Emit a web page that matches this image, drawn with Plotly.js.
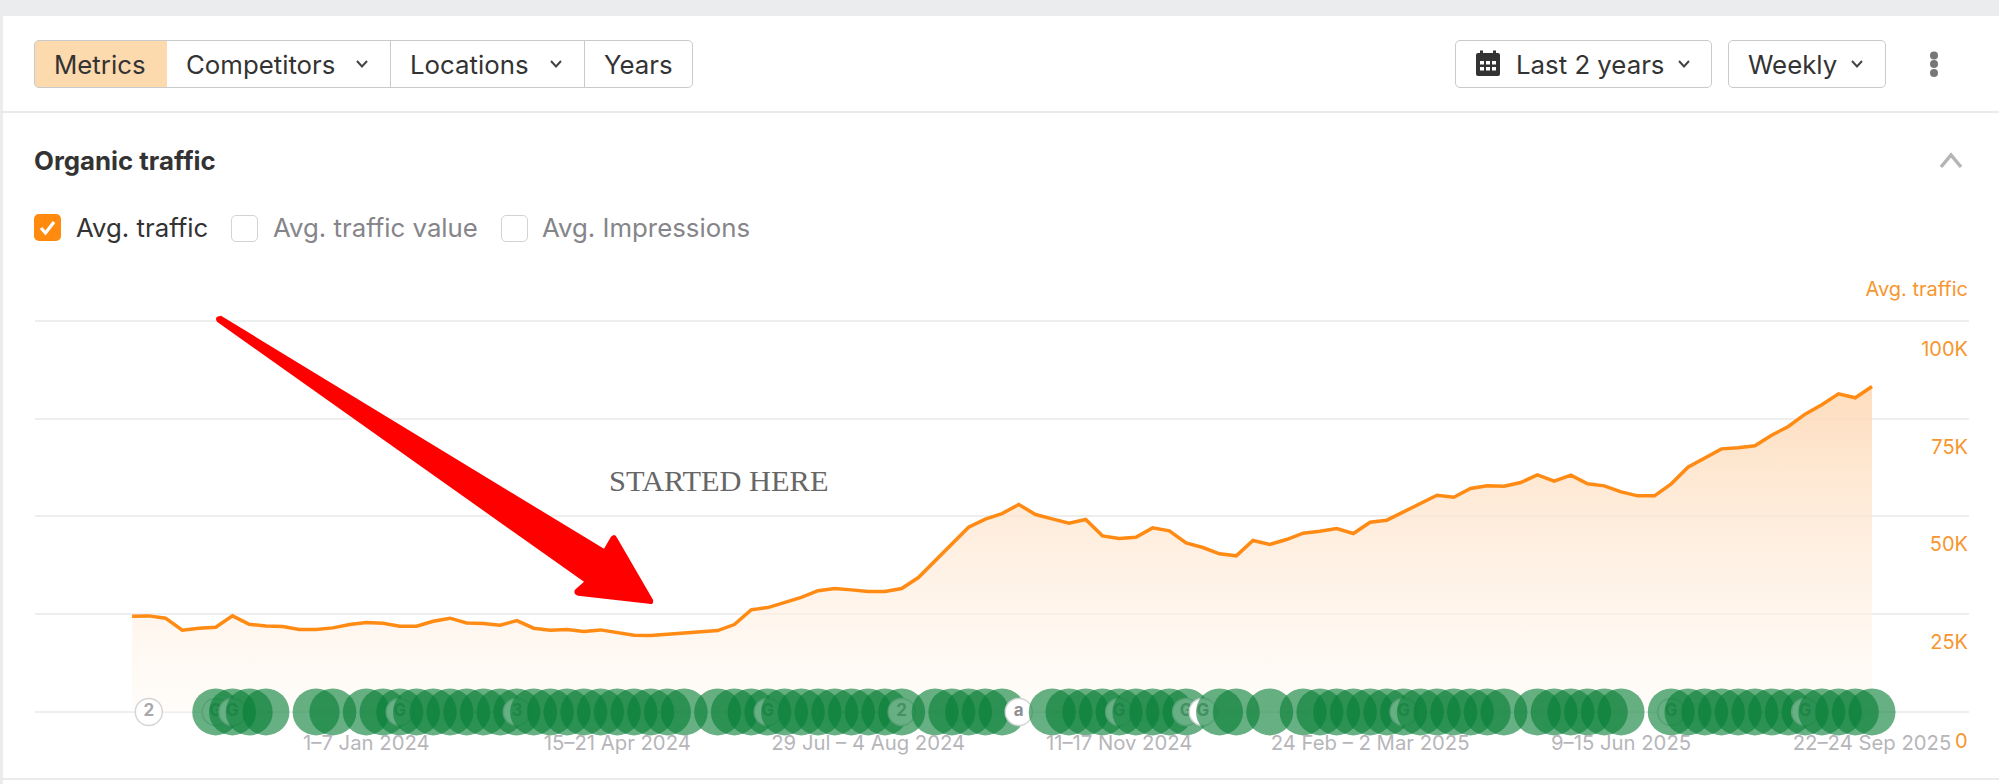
<!DOCTYPE html>
<html><head><meta charset="utf-8">
<script src="https://cdn.plot.ly/plotly-3.0.1.min.js"></script>
<style>
html,body{margin:0;padding:0;background:#fff;width:1999px;height:784px;overflow:hidden;font-family:Inter,sans-serif;color:#333}
.a{position:absolute;box-sizing:border-box;white-space:nowrap}
.btn{top:40px;height:48px;font-size:25.8px;line-height:47px;border:1.5px solid #c9cacc;background:#fff;padding-left:19px}
.lab{font-size:25.8px;line-height:30px;top:213px}
.box{top:215px;width:27px;height:27px;border:1.5px solid #d3d3d5;border-radius:5px;background:#fff}
svg.i{position:absolute}
</style></head><body>
<div class="a" style="left:0;top:0;width:1999px;height:16px;background:#ebecee"></div>
<div class="a" style="left:0;top:0;width:3px;height:784px;background:#ebecee"></div>
<div id="chart" class="a" style="left:0;top:0;width:1999px;height:784px"></div>

<div class="a btn" style="left:34px;width:134px;background:#fdd9ae;border-radius:5px 0 0 5px">Metrics</div>
<div class="a btn" style="left:167px;width:224px;border-left:0">Competitors</div>
<div class="a btn" style="left:390px;width:195px;border-left:1.5px solid #c9cacc">Locations</div>
<div class="a btn" style="left:584px;width:109px;border-radius:0 5px 5px 0">Years</div>
<div class="a btn" style="left:1455px;width:257px;border-radius:5px;padding-left:60px">Last 2 years</div>
<div class="a btn" style="left:1728px;width:158px;border-radius:5px">Weekly</div>

<svg class="i" style="left:355px;top:59px" width="14" height="10" viewBox="0 0 14 10"><path d="M2 2 L7 7.5 L12 2" fill="none" stroke="#444" stroke-width="2"/></svg>
<svg class="i" style="left:549px;top:59px" width="14" height="10" viewBox="0 0 14 10"><path d="M2 2 L7 7.5 L12 2" fill="none" stroke="#444" stroke-width="2"/></svg>
<svg class="i" style="left:1677px;top:59px" width="14" height="10" viewBox="0 0 14 10"><path d="M2 2 L7 7.5 L12 2" fill="none" stroke="#444" stroke-width="2"/></svg>
<svg class="i" style="left:1850px;top:59px" width="14" height="10" viewBox="0 0 14 10"><path d="M2 2 L7 7.5 L12 2" fill="none" stroke="#444" stroke-width="2"/></svg>
<svg class="i" style="left:1474px;top:50px" width="28" height="28" viewBox="0 0 28 28"><rect x="2" y="3" width="24" height="23" rx="2" fill="#333"/><rect x="6" y="0.5" width="3" height="5" fill="#333"/><rect x="19" y="0.5" width="3" height="5" fill="#333"/><g fill="#fff"><rect x="6" y="11" width="4" height="3.5"/><rect x="12" y="11" width="4" height="3.5"/><rect x="18" y="11" width="4" height="3.5"/><rect x="6" y="17" width="4" height="3.5"/><rect x="12" y="17" width="4" height="3.5"/><rect x="18" y="17" width="4" height="3.5"/></g></svg>
<svg class="i" style="left:1925px;top:50px" width="18" height="28" viewBox="0 0 18 28"><g fill="#777"><circle cx="9" cy="5.5" r="4"/><circle cx="9" cy="14" r="4"/><circle cx="9" cy="23" r="4"/></g></svg>

<div class="a" style="left:0;top:111px;width:1999px;height:2px;background:#ebebec"></div>
<div class="a" style="left:34px;top:146px;font-size:25.8px;line-height:30px;font-weight:700;color:#333">Organic traffic</div>
<svg class="i" style="left:1938px;top:150px" width="26" height="20" viewBox="0 0 26 20"><path d="M3 17 L13 5 L23 17" fill="none" stroke="#b5b5b7" stroke-width="3.5"/></svg>

<div class="a" style="left:34px;top:214px;width:27px;height:27px;background:#ff8a0d;border-radius:5px"></div>
<svg class="i" style="left:34px;top:214px" width="27" height="27" viewBox="0 0 27 27"><path d="M7 14 L11.5 19 L20 8" fill="none" stroke="#fff" stroke-width="3.2"/></svg>
<div class="a lab" style="left:76px;color:#333">Avg. traffic</div>
<div class="a box" style="left:231px"></div>
<div class="a lab" style="left:273px;color:#85858a">Avg. traffic value</div>
<div class="a box" style="left:501px"></div>
<div class="a lab" style="left:542px;color:#85858a">Avg. Impressions</div>
<div class="a" style="right:31px;top:277px;font-size:20px;line-height:24px;color:#f7962f">Avg. traffic</div>
<div class="a" style="left:0;top:778px;width:1999px;height:2px;background:#ebebec"></div>

<script>
const weeks = ["2023-09-25","2023-10-02","2023-10-09","2023-10-16","2023-10-23","2023-10-30","2023-11-06","2023-11-13","2023-11-20","2023-11-27","2023-12-04","2023-12-11","2023-12-18","2023-12-25",
"2024-01-01","2024-01-08","2024-01-15","2024-01-22","2024-01-29","2024-02-05","2024-02-12","2024-02-19","2024-02-26","2024-03-04","2024-03-11","2024-03-18","2024-03-25","2024-04-01","2024-04-08","2024-04-15","2024-04-22","2024-04-29","2024-05-06","2024-05-13","2024-05-20","2024-05-27","2024-06-03","2024-06-10","2024-06-17","2024-06-24","2024-07-01","2024-07-08","2024-07-15","2024-07-22","2024-07-29","2024-08-05","2024-08-12","2024-08-19","2024-08-26","2024-09-02","2024-09-09","2024-09-16","2024-09-23","2024-09-30","2024-10-07","2024-10-14","2024-10-21","2024-10-28","2024-11-04","2024-11-11","2024-11-18","2024-11-25","2024-12-02","2024-12-09","2024-12-16","2024-12-23","2024-12-30",
"2025-01-06","2025-01-13","2025-01-20","2025-01-27","2025-02-03","2025-02-10","2025-02-17","2025-02-24","2025-03-03","2025-03-10","2025-03-17","2025-03-24","2025-03-31","2025-04-07","2025-04-14","2025-04-21","2025-04-28","2025-05-05","2025-05-12","2025-05-19","2025-05-26","2025-06-02","2025-06-09","2025-06-16","2025-06-23","2025-06-30","2025-07-07","2025-07-14","2025-07-21","2025-07-28","2025-08-04","2025-08-11","2025-08-18","2025-08-25","2025-09-01","2025-09-08","2025-09-15","2025-09-22"];
const traffic = [24470,24550,23960,20890,21400,21650,24550,22420,21990,21820,21060,21060,21480,22340,22850,22680,21910,21910,23190,23960,22760,22590,22170,23360,21400,20890,21060,20550,20970,20290,19610,19520,19860,20290,20630,20800,22340,26090,26680,28050,29300,31000,31540,31200,30780,30780,31540,34360,38700,42970,47230,49280,50720,53030,50470,49360,48250,49190,45010,44330,44670,47060,46290,43220,42030,40410,39900,43820,42800,44070,45700,46210,46890,45610,48510,49020,51150,53280,55410,54900,57120,57800,57720,58650,60610,59000,60530,58310,57800,56270,55240,55240,58310,62570,64880,67260,67520,68030,70760,72970,76130,78520,81330,80310,83200];
const xTickWeeks = ["2024-01-01","2024-04-15","2024-07-29","2024-11-11","2025-02-24","2025-06-09","2025-09-22"];
const xTickText = ["1–7 Jan 2024","15–21 Apr 2024","29 Jul – 4 Aug 2024","11–17 Nov 2024","24 Feb – 2 Mar 2025","9–15 Jun 2025","22–24 Sep 2025"];
const yTicks = [0,25000,50000,75000,100000];
const yTickText = ["0","25K","50K","75K","100K"];
const updateWeeks = [5,6,7,8,11,12,14,15,16,17,18,19,20,21,22,23,24,25,26,27,28,29,30,31,32,33,35,36,37,38,39,40,41,42,43,44,45,46,48,49,50,51,52,55,56,57,58,59,60,61,62,63,65,66,68,70,71,72,73,74,75,76,77,78,79,80,81,82,84,85,86,87,88,89,92,93,94,95,96,97,98,99,100,101,102,103,104];
const iconWeeks = [1,5,6,16,23,38,46,53,59,63,64,76,92,100];
const iconText = ["2","G","G","G","3","G","2","a","G","G","G","G","G","G"];

const L=35,R=1969,T=313.18,B=751.1;
const fx=x=>((x-L)/(R-L));
const fy=y=>((B-y)/(B-T));
const px=(x,y)=>fx(x).toFixed(5)+","+fy(y).toFixed(5);
const arrow="M"+px(217,317)+" L"+px(221,316)+" L"+px(604,549)+" L"+px(611,537)+" Q"+px(615,533)+" "+px(617,538)+" L"+px(653,600)+" Q"+px(654,605)+" "+px(649,604)+" L"+px(578,596)+" Q"+px(573,594)+" "+px(575,590)+" L"+px(584,582)+" L"+px(217,322)+" Q"+px(215,319)+" "+px(217,317)+" Z";

const orange="#ff8b14";
const labelOrange="#f7962f";
const data=[
 {x:weeks,y:traffic,type:"scatter",mode:"lines",line:{color:orange,width:3.5,shape:"linear"},fill:"tozeroy",
  fillgradient:{type:"vertical",colorscale:[[0,"rgba(255,250,245,0.5)"],[1,"rgba(253,215,178,0.85)"]]},hoverinfo:"skip",showlegend:false}
];
// events are stacked in week order: a week's icon goes under that week's green circle, over earlier weeks
weeks.forEach((w,i)=>{
  const k=iconWeeks.indexOf(i);
  if(k>=0) data.push({x:[w],y:[0],type:"scatter",mode:"markers+text",text:[iconText[k]],textposition:"middle center",
    textfont:{family:"Inter, sans-serif",size:17,color:iconText[k]==="a"?"#8f8f93":"#a8a8ac",weight:700},cliponaxis:false,
    marker:{size:27,color:"#ffffff",line:{color:"#d5d5d8",width:1.5}},hoverinfo:"skip",showlegend:false});
  if(updateWeeks.includes(i)) data.push({x:[w],y:[0],type:"scatter",mode:"markers",cliponaxis:false,
    marker:{size:47,color:"rgba(8,128,55,0.62)",line:{width:0}},hoverinfo:"skip",showlegend:false});
});
const layout={width:1999,height:784,margin:{l:L,r:1999-R,t:T,b:784-B,pad:0},paper_bgcolor:"rgba(0,0,0,0)",plot_bgcolor:"rgba(0,0,0,0)",showlegend:false,
 font:{family:"Inter, sans-serif"},
 xaxis:{type:"date",range:["2023-08-15 09:00","2025-11-01 14:00"],anchor:"free",position:(B-712)/(B-T),tickmode:"array",tickvals:xTickWeeks,ticktext:xTickText,ticks:"",ticklen:0,showgrid:false,zeroline:false,showline:false,
  tickfont:{size:20.3,color:"#b6b6ba",family:"Inter, sans-serif"},ticklabelstandoff:17},
 yaxis:{range:[-10000,102000],side:"right",tickmode:"array",tickvals:yTicks,ticktext:yTickText,ticks:"",showline:false,zeroline:false,showgrid:true,gridcolor:"#eeeeef",gridwidth:2,
  ticklabelposition:"inside",ticklabelshift:28,ticklabelstandoff:-2,tickfont:{size:20,color:labelOrange,family:"Inter, sans-serif"}},
 shapes:[{type:"path",xref:"paper",yref:"paper",path:arrow,fillcolor:"#ff0000",line:{width:0},layer:"above"}],
 annotations:[
  {xref:"paper",yref:"paper",x:fx(607),y:fy(481),xanchor:"left",yanchor:"middle",showarrow:false,text:"STARTED HERE",font:{family:"Liberation Serif, serif",size:30.4,color:"#666666"}},
  {xref:"paper",yref:"y",x:1,y:yTicks[0],yshift:-29,xanchor:"right",yanchor:"middle",xshift:1,showarrow:false,text:yTickText[0],font:{size:20,color:labelOrange,family:"Inter, sans-serif"}}
 ]
};
Plotly.newPlot("chart",data,layout,{staticPlot:true,displayModeBar:false});
</script>
</body></html>
